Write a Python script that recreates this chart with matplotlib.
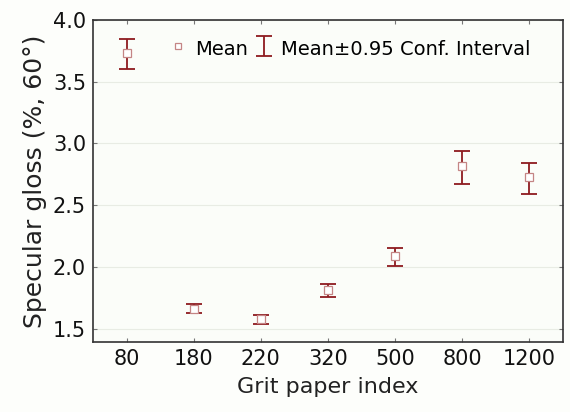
import matplotlib
matplotlib.use("Agg")
import matplotlib.pyplot as plt
from matplotlib.lines import Line2D
from matplotlib.legend_handler import HandlerErrorbar
import numpy as np

plt.rcParams['font.family'] = ['DejaVu Sans']

categories = ["80", "180", "220", "320", "500", "800", "1200"]
means = [3.73, 1.66, 1.575, 1.815, 2.09, 2.815, 2.73]
upper = [3.85, 1.70, 1.61, 1.86, 2.15, 2.94, 2.845]
lower = [3.60, 1.63, 1.54, 1.76, 2.01, 2.675, 2.595]
yticks = [1.5, 2.0, 2.5, 3.0, 3.5, 4.0]

red = "#8e1b1f"
mk_edge = "#c48585"
fig = plt.figure(figsize=(5.7, 4.12), dpi=100)
fig.patch.set_facecolor("#fdfefb")
ax = fig.add_axes([93/570, 1-341.7/412, (563-93)/570, (341.7-20)/412])
ax.set_facecolor("#fbfdf9")

x = np.arange(len(categories))
m = np.array(means)
yerr = np.vstack([m - np.array(lower), np.array(upper) - m])
ax.errorbar(x, m, yerr=yerr, fmt='none', ecolor=red, elinewidth=1.3,
            capsize=5.5, capthick=1.3, zorder=3)
ax.plot(x, m, 's', ms=5.5, mfc='white', mec=mk_edge, mew=0.9, ls='none', zorder=4)

ax.set_xlim(-0.5, 6.5)
ax.set_ylim(1.395, 4.0)
ax.set_xticks(x)
ax.set_xticklabels(categories)
ax.set_yticks(yticks)
ax.set_yticklabels([f"{v:.1f}" for v in yticks])
ax.tick_params(direction='in', length=3, width=0.8, labelsize=15, top=True, right=True,
               colors='#777777', labelcolor='#111111', pad=5)
ax.grid(axis='y', color='#e8ece4', lw=0.8)
ax.set_axisbelow(True)
for s in ax.spines.values():
    s.set_color('#333333')
    s.set_linewidth(1.2)

ax.set_xlabel("Grit paper index", fontsize=16, color='#222222', labelpad=6)
ax.set_ylabel("Specular gloss (%, 60°)", fontsize=18, color='#222222', labelpad=4)

h1 = Line2D([], [], marker='s', ms=5, mfc='white', mec=mk_edge, mew=0.9, ls='none')
eb = ax.errorbar([-10], [3.0], yerr=[0.1], fmt='none', ecolor=red, elinewidth=1.3,
                 capsize=5.5, capthick=1.3)
leg = ax.legend([h1, eb], ["Mean", "Mean±0.95 Conf. Interval"], ncol=2, frameon=False,
                loc='upper left', bbox_to_anchor=(0.123, 1.0), fontsize=14,
                handlelength=1.0, handleheight=1.3, handletextpad=0.4, columnspacing=0.3,
                borderaxespad=0.5,
                handler_map={type(eb): HandlerErrorbar(yerr_size=0.5)})
fig.savefig("out.png", dpi=100, facecolor=fig.get_facecolor())
